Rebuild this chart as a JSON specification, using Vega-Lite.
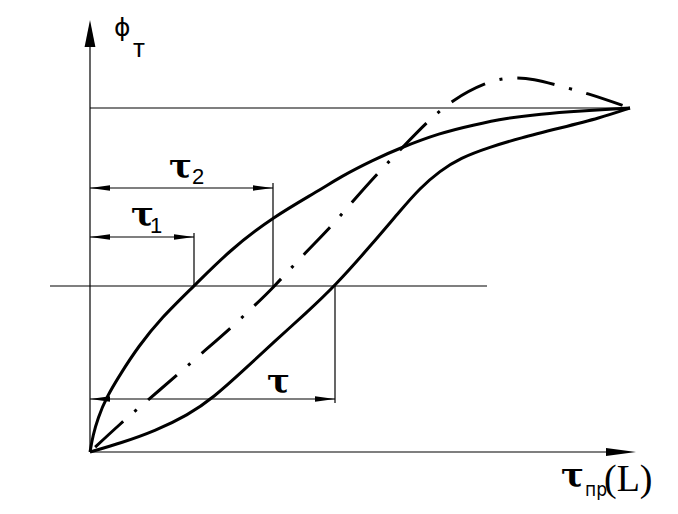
{
  "$schema": "https://vega.github.io/schema/vega-lite/v6.json",
  "width": 678,
  "height": 514,
  "autosize": {"type": "none"},
  "padding": 0,
  "background": "white",
  "config": {"view": {"stroke": null}},
  "datasets": {
    "segs": [
      {"x": 0, "y": 0, "x2": 0, "y2": 425},
      {"x": 0, "y": 0, "x2": 530, "y2": 0},
      {"x": 0, "y": 344, "x2": 540, "y2": 344},
      {"x": -40, "y": 166, "x2": 397, "y2": 166},
      {"x": 0, "y": 264, "x2": 183, "y2": 264},
      {"x": 183, "y": 166, "x2": 183, "y2": 269},
      {"x": 0, "y": 215, "x2": 104, "y2": 215},
      {"x": 104, "y": 166, "x2": 104, "y2": 219},
      {"x": 0, "y": 53, "x2": 245, "y2": 53},
      {"x": 245, "y": 49, "x2": 245, "y2": 166}
    ],
    "curves": [
      {"c": "upper", "x": 0, "y": 0},
      {"c": "upper", "x": 3, "y": 17},
      {"c": "upper", "x": 8, "y": 34},
      {"c": "upper", "x": 16, "y": 54},
      {"c": "upper", "x": 31, "y": 79},
      {"c": "upper", "x": 48, "y": 105},
      {"c": "upper", "x": 71, "y": 134},
      {"c": "upper", "x": 104, "y": 166},
      {"c": "upper", "x": 140, "y": 202},
      {"c": "upper", "x": 183, "y": 235},
      {"c": "upper", "x": 230, "y": 262},
      {"c": "upper", "x": 250, "y": 275},
      {"c": "upper", "x": 283, "y": 292},
      {"c": "upper", "x": 310, "y": 304},
      {"c": "upper", "x": 350, "y": 319},
      {"c": "upper", "x": 383, "y": 327},
      {"c": "upper", "x": 417, "y": 334},
      {"c": "upper", "x": 450, "y": 338},
      {"c": "upper", "x": 490, "y": 341},
      {"c": "upper", "x": 540, "y": 344},
      {"c": "lower", "x": 0, "y": 0},
      {"c": "lower", "x": 31, "y": 9},
      {"c": "lower", "x": 65, "y": 21},
      {"c": "lower", "x": 98, "y": 37},
      {"c": "lower", "x": 123, "y": 54},
      {"c": "lower", "x": 155, "y": 83},
      {"c": "lower", "x": 185, "y": 111},
      {"c": "lower", "x": 215, "y": 138},
      {"c": "lower", "x": 245, "y": 166},
      {"c": "lower", "x": 283, "y": 209},
      {"c": "lower", "x": 310, "y": 241},
      {"c": "lower", "x": 330, "y": 264},
      {"c": "lower", "x": 350, "y": 281},
      {"c": "lower", "x": 370, "y": 294},
      {"c": "lower", "x": 400, "y": 305},
      {"c": "lower", "x": 430, "y": 314},
      {"c": "lower", "x": 470, "y": 324},
      {"c": "lower", "x": 510, "y": 334},
      {"c": "lower", "x": 540, "y": 344}
    ],
    "dashdot": [
      {"x": 0, "y": 0},
      {"x": 31, "y": 29},
      {"x": 58, "y": 52},
      {"x": 86, "y": 76},
      {"x": 112, "y": 99},
      {"x": 141, "y": 124},
      {"x": 165, "y": 147},
      {"x": 181, "y": 162},
      {"x": 213, "y": 197},
      {"x": 240, "y": 224},
      {"x": 263, "y": 251},
      {"x": 287, "y": 278},
      {"x": 312, "y": 304},
      {"x": 337, "y": 330},
      {"x": 362, "y": 352},
      {"x": 396, "y": 370},
      {"x": 420, "y": 375},
      {"x": 445, "y": 373},
      {"x": 466, "y": 367},
      {"x": 497, "y": 359},
      {"x": 540, "y": 344}
    ],
    "arrR": [
      {"x": 183, "y": 264},
      {"x": 104, "y": 215},
      {"x": 245, "y": 53}
    ],
    "arrL": [
      {"x": 0, "y": 264},
      {"x": 0, "y": 215},
      {"x": 0, "y": 53}
    ],
    "arrU": [{"x": 0, "y": 432}],
    "arrX": [{"x": 546, "y": 0}],
    "tauBold": [
      {"x": 79, "y": 274, "t": "τ"},
      {"x": 41, "y": 226, "t": "τ"},
      {"x": 177, "y": 59, "t": "τ"},
      {"x": 471, "y": -35, "t": "τ"}
    ],
    "digits": [
      {"x": 102, "y": 268, "t": "2"},
      {"x": 60, "y": 219, "t": "1"}
    ],
    "phi": [{"x": 24, "y": 416, "t": "ϕ"}],
    "subT": [{"x": 43, "y": 395, "t": "т"}],
    "subPr": [{"x": 495, "y": -44, "t": "пр"}],
    "paren": [{"x": 514, "y": -39, "t": "(L)"}]
  },
  "encoding": {
    "x": {"field": "x", "type": "quantitative", "scale": {"domain": [-90, 588], "nice": false, "zero": false}, "axis": null},
    "y": {"field": "y", "type": "quantitative", "scale": {"domain": [-62, 452], "nice": false, "zero": false}, "axis": null}
  },
  "layer": [
    {
      "data": {"name": "segs"},
      "mark": {"type": "rule", "color": "black", "strokeWidth": 1.2},
      "encoding": {"x2": {"field": "x2"}, "y2": {"field": "y2"}}
    },
    {
      "data": {"name": "curves"},
      "mark": {"type": "line", "color": "black", "strokeWidth": 3, "interpolate": "basis"},
      "encoding": {"detail": {"field": "c"}}
    },
    {
      "data": {"name": "dashdot"},
      "mark": {"type": "line", "color": "black", "strokeWidth": 3, "interpolate": "basis", "strokeDash": [38, 15, 3, 15], "strokeDashOffset": 64, "strokeCap": "butt"},
      "encoding": {}
    },
    {
      "data": {"name": "arrR"},
      "mark": {"type": "point", "shape": "M0,0L-4,-0.55L-4,0.55Z", "size": 100, "filled": true, "color": "black", "opacity": 1, "strokeWidth": 0}
    },
    {
      "data": {"name": "arrL"},
      "mark": {"type": "point", "shape": "M0,0L4,-0.55L4,0.55Z", "size": 100, "filled": true, "color": "black", "opacity": 1, "strokeWidth": 0}
    },
    {
      "data": {"name": "arrU"},
      "mark": {"type": "point", "shape": "M0,0L-1,5L1,5Z", "size": 117, "filled": true, "color": "black", "opacity": 1, "strokeWidth": 0}
    },
    {
      "data": {"name": "arrX"},
      "mark": {"type": "point", "shape": "M0,0L-6,-0.8L-6,0.8Z", "size": 100, "filled": true, "color": "black", "opacity": 1, "strokeWidth": 0}
    },
    {
      "data": {"name": "tauBold"},
      "mark": {"type": "text", "align": "left", "baseline": "alphabetic", "font": "DejaVu Serif", "fontWeight": "bold", "fontSize": 34, "color": "black"},
      "encoding": {"text": {"field": "t"}}
    },
    {
      "data": {"name": "digits"},
      "mark": {"type": "text", "align": "left", "baseline": "alphabetic", "font": "Liberation Sans", "fontSize": 22, "color": "black"},
      "encoding": {"text": {"field": "t"}}
    },
    {
      "data": {"name": "phi"},
      "mark": {"type": "text", "align": "left", "baseline": "alphabetic", "font": "DejaVu Sans", "fontSize": 25, "color": "black"},
      "encoding": {"text": {"field": "t"}}
    },
    {
      "data": {"name": "subT"},
      "mark": {"type": "text", "align": "left", "baseline": "alphabetic", "font": "Liberation Sans", "fontSize": 26, "color": "black"},
      "encoding": {"text": {"field": "t"}}
    },
    {
      "data": {"name": "subPr"},
      "mark": {"type": "text", "align": "left", "baseline": "alphabetic", "font": "Liberation Sans Narrow, DejaVu Sans Condensed, Liberation Sans", "fontSize": 19, "color": "black"},
      "encoding": {"text": {"field": "t"}}
    },
    {
      "data": {"name": "paren"},
      "mark": {"type": "text", "align": "left", "baseline": "alphabetic", "font": "Liberation Serif", "fontSize": 38, "color": "black"},
      "encoding": {"text": {"field": "t"}}
    }
  ]
}
